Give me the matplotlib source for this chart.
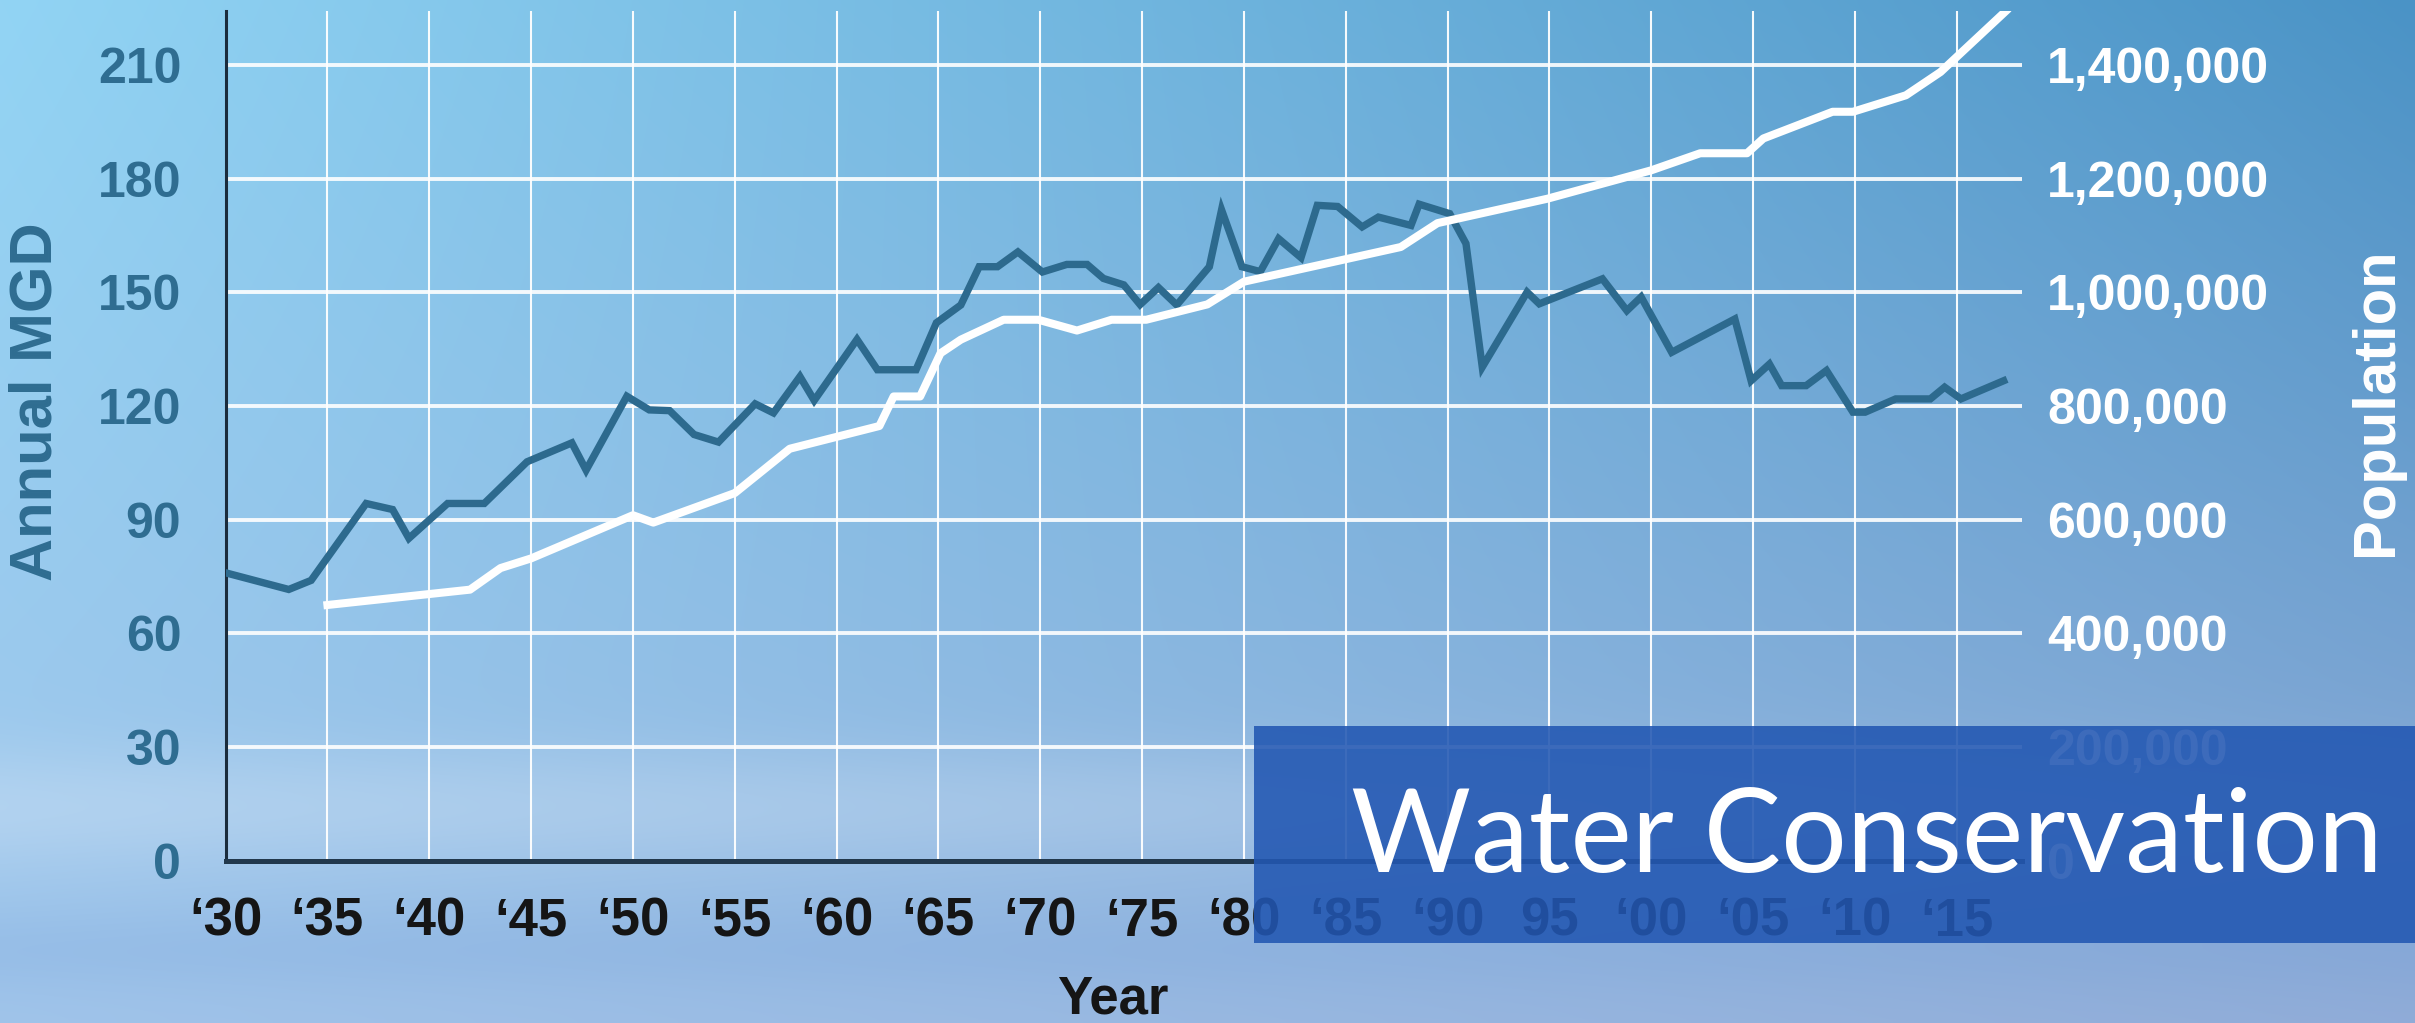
import numpy as np
import matplotlib
matplotlib.use("Agg")
import matplotlib.pyplot as plt
from matplotlib.patches import Rectangle
from matplotlib.ticker import FuncFormatter

# water use (annual MGD)
mgd_years = [1930, 1933.1, 1934.2, 1936.9, 1938.2, 1939.0, 1940.9, 1942.7, 1944.8, 1947.0,
             1947.7, 1949.7, 1950.8, 1951.8, 1953.0, 1954.2, 1956.0, 1956.9, 1958.2, 1958.9,
             1961.0, 1962.0, 1963.9, 1964.9, 1966.1, 1967.0, 1967.9, 1968.9, 1970.1, 1971.3,
             1972.3, 1973.1, 1974.1, 1974.9, 1975.8, 1976.7, 1978.3, 1978.9, 1979.9, 1980.8,
             1981.7, 1982.8, 1983.6, 1984.6, 1985.8, 1986.6, 1988.2, 1988.6, 1990.1, 1990.9,
             1991.7, 1993.9, 1994.5, 1997.6, 1998.8, 1999.5, 2001.0, 2004.1, 2004.9, 2005.8,
             2006.4, 2007.6, 2008.6, 2009.9, 2010.5, 2012.0, 2013.7, 2014.4, 2015.2, 2017.3]
mgd = [76, 71.6, 74, 94.3, 92.7, 85.1, 94.3, 94.3, 105.3, 110.3,
       103.1, 122.6, 119, 118.8, 112.5, 110.5, 120.6, 118.2, 127.8, 121.5,
       137.6, 129.6, 129.6, 142, 146.7, 156.8, 156.8, 160.7, 155.4, 157.4,
       157.4, 153.7, 152, 146.8, 151.3, 146.7, 156.8, 171.8, 156.8, 155.5,
       164.2, 159.2, 173, 172.7, 167.3, 169.9, 167.7, 173.3, 170.8, 162.9,
       130.3, 150.1, 147, 153.6, 145.2, 148.8, 134.2, 143, 126.7, 131.1,
       125.4, 125.4, 129.4, 118.4, 118.4, 121.9, 121.9, 125, 121.9, 126.7]

# population
pop_years = [1935, 1942, 1943.5, 1945, 1950, 1951, 1955, 1957.7, 1962.1, 1962.8,
             1964.1, 1965.1, 1966.1, 1968.2, 1969.9, 1971.8, 1973.5, 1975.2, 1978.2, 1980,
             1987.7, 1989.5, 1994.9, 2000, 2002.4, 2004.7, 2005.5, 2008.9, 2009.9, 2012.5,
             2014.2, 2017.4]
population = [450000, 477000, 515000, 532000, 608000, 595000, 647000, 725000, 765000, 817000,
              817000, 893000, 917000, 952000, 952000, 933000, 952000, 952000, 979000, 1019000,
              1080000, 1122000, 1165000, 1215000, 1245000, 1245000, 1271000, 1318000, 1318000, 1347000,
              1388000, 1495000]

x_ticks = list(range(1930, 2016, 5))
x_labels = ["\u201830", "\u201835", "\u201840", "\u201845", "\u201850", "\u201855", "\u201860",
            "\u201865", "\u201870", "\u201875", "\u201880", "\u201885", "\u201890", "95",
            "\u201800", "\u201805", "\u201810", "\u201815"]
mgd_ticks = [0, 30, 60, 90, 120, 150, 180, 210]
pop_ticks = [0, 200000, 400000, 600000, 800000, 1000000, 1200000, 1400000]

line_col = "#2d6a8e"
label_col = "#2f6d91"
font = "Liberation Sans"

fig = plt.figure(figsize=(24.15, 10.23), dpi=100)

# sky background
bg = fig.add_axes([0, 0, 1, 1], zorder=-5)
H, W = 300, 600
yy, xx = np.mgrid[0:1:H * 1j, 0:1:W * 1j]
tl = np.array([0x92, 0xd4, 0xf4]) / 255
tr = np.array([0x4a, 0x93, 0xc6]) / 255
bl = np.array([0xa0, 0xc4, 0xea]) / 255
br = np.array([0x90, 0xac, 0xd8]) / 255
img = ((1 - xx) * (1 - yy))[..., None] * tl + (xx * (1 - yy))[..., None] * tr \
    + ((1 - xx) * yy)[..., None] * bl + (xx * yy)[..., None] * br
band = 0.25 * np.exp(-((yy - 0.79) / 0.06) ** 2) * (1 - 0.5 * xx)
img = img * (1 - band[..., None]) + band[..., None] * np.array([0.93, 0.95, 0.98])
low = 0.18 * np.exp(-((yy - 0.93) / 0.04) ** 2)
img = img * (1 - low[..., None]) + low[..., None] * np.array([0.45, 0.62, 0.85])
bg.imshow(img, aspect="auto", extent=[0, 1, 0, 1], interpolation="bicubic")
bg.axis("off")

ax = fig.add_axes([225.6 / 2415, 1 - 860.7 / 1023, (2022 - 225.6) / 2415, (860.7 - 11) / 1023])
ax.set_facecolor("none")
ax.set_xlim(1930, 2018.2)
ax.set_ylim(0, 224.3)

for y in mgd_ticks[1:]:
    ax.axhline(y, color="white", lw=2.8, alpha=0.9, zorder=1)
for x in x_ticks[1:]:
    ax.axvline(x, color="white", lw=1.5, alpha=0.95, zorder=1)

ax.plot(mgd_years, mgd, color=line_col, lw=5.3, solid_joinstyle="miter", zorder=3)

for s in ["top", "right"]:
    ax.spines[s].set_visible(False)
ax.spines["left"].set_color("#1b2c3c")
ax.spines["left"].set_linewidth(2.2)
ax.spines["bottom"].set_color("#22384c")
ax.spines["bottom"].set_linewidth(3.6)
ax.spines["bottom"].set_zorder(4)

ax.set_xticks(x_ticks)
ax.set_xticklabels(x_labels)
ax.set_yticks(mgd_ticks)
ax.tick_params(axis="both", length=0)
ax.tick_params(axis="x", pad=26, labelsize=38, labelcolor="#151515")
ax.tick_params(axis="y", pad=32, labelsize=36, labelcolor=label_col)
for t in ax.get_xticklabels() + ax.get_yticklabels():
    t.set_fontfamily(font)
    t.set_fontweight("bold")

ax2 = ax.twinx()
ax2.set_ylim(0, 224.3 * 20000 / 3)
ax2.plot(pop_years, population, color="white", lw=5.8, zorder=3)
for s in ax2.spines.values():
    s.set_visible(False)
ax2.set_yticks(pop_ticks)
ax2.yaxis.set_major_formatter(FuncFormatter(lambda v, p: f"{int(v):,}"))
ax2.tick_params(axis="y", length=0, pad=18, labelsize=36, labelcolor="white")
for t in ax2.get_yticklabels():
    t.set_fontfamily(font)
    t.set_fontweight("bold")

fig.text(0.0150, 0.607, "Annual MGD", rotation=90, ha="center", va="center",
         fontsize=43, fontweight="bold", color=label_col, family=font)
fig.text(0.984, 0.607, "Population", rotation=90, ha="center", va="center",
         fontsize=43, fontweight="bold", color="white", family=font)
fig.text(1113 / 2415, 1 - 1014 / 1023, "Year", ha="center", va="baseline",
         fontsize=38, fontweight="bold", color="#151515", family=font)

# title banner
fig.patches.append(Rectangle((1254 / 2415, 1 - 943 / 1023), 1 - 1254 / 2415, 217 / 1023,
                             transform=fig.transFigure, facecolor="#2257b2", alpha=0.88,
                             edgecolor="none", zorder=10))
fig.text(1351 / 2415, 1 - 872 / 1023, "Water Conservation", ha="left", va="baseline",
         fontsize=83.5, color="white", family="Lato", zorder=11)

fig.savefig("out.png", dpi=100)
